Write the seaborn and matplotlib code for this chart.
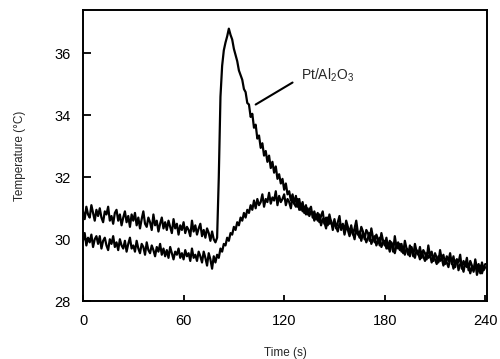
import numpy as np
import pandas as pd
import matplotlib
matplotlib.use("Agg")
import matplotlib.pyplot as plt
import seaborn as sns

# time axis: sampled every 1 s from 0 to 240 s
time_s = list(range(0, 241))

# Pt/Al2O3 sample (upper trace at start, sharp peak near 87 s)
temp_pt = [
    30.9, 30.65, 31.05, 30.8, 30.7, 31.1, 30.85, 30.6, 30.95, 30.75,
    31.0, 30.7, 30.55, 30.9, 30.8, 31.05, 30.6, 30.75, 30.5, 30.85,
    30.95, 30.6, 30.8, 30.45, 30.7, 30.9, 30.55, 30.75, 30.4, 30.8,
    30.6, 30.85, 30.45, 30.7, 30.35, 30.65, 30.9, 30.5, 30.4, 30.7,
    30.55, 30.3, 30.8, 30.45, 30.6, 30.25, 30.5, 30.7, 30.35, 30.55,
    30.3, 30.6, 30.4, 30.2, 30.65, 30.35, 30.5, 30.15, 30.45, 30.3,
    30.55, 30.2, 30.4, 30.3, 30.1, 30.6, 30.25, 30.45, 30.15, 30.35,
    30.5, 30.1, 30.3, 30.05, 30.35, 30.2, 29.95, 30.25, 30.0, 29.9,
    30.05, 32.0, 34.6, 35.6, 36.1, 36.35, 36.55, 36.8, 36.6, 36.45,
    36.15, 35.95, 35.75, 35.45, 35.3, 35.15, 34.85, 34.75, 34.4, 34.35,
    33.95, 34.05, 33.6, 33.7, 33.25, 33.35, 32.95, 33.1, 32.7, 32.85,
    32.5, 32.7, 32.3, 32.5, 32.15, 32.35, 31.95, 32.1, 31.8, 31.95,
    31.6, 31.8, 31.45, 31.55, 31.25, 31.45, 31.15, 31.4, 31.05, 31.3,
    30.95, 31.2, 30.85, 31.1, 30.8, 30.95, 31.05, 30.7, 30.9, 30.65,
    30.85, 30.55, 30.75, 30.9, 30.5, 30.7, 30.45, 30.8, 30.55, 30.4,
    30.65, 30.35, 30.55, 30.75, 30.3, 30.5, 30.25, 30.6, 30.4, 30.2,
    30.45, 30.15, 30.35, 30.6, 30.2, 30.05, 30.4, 30.25, 30.0, 30.3,
    30.2, 29.95, 30.35, 30.05, 29.9, 30.15, 30.0, 29.8, 30.2, 29.95,
    29.8, 30.05, 29.7, 29.95, 29.85, 29.6, 30.1, 29.75, 29.9, 29.65,
    29.85, 29.55, 29.95, 29.7, 29.5, 29.8, 29.65, 29.45, 29.85, 29.6,
    29.5, 29.75, 29.4, 29.65, 29.55, 29.35, 29.8, 29.45, 29.6, 29.3,
    29.55, 29.4, 29.25, 29.65, 29.35, 29.5, 29.2, 29.45, 29.3, 29.55,
    29.2, 29.45, 29.1, 29.35, 29.25, 29.5, 29.05, 29.3, 29.15, 29.4,
    29.0, 29.3, 29.15, 28.95, 29.35, 29.05, 29.2, 28.9, 29.25, 29.0,
    29.1,
]

# second sample (lower trace at start, slow rise after 80 s)
temp_ref = [
    29.95, 30.2, 29.8, 30.05, 29.9, 30.15, 29.75, 30.0, 30.1, 29.85,
    30.1, 29.7, 29.95, 30.05, 29.8, 29.65, 30.0, 29.85, 30.1, 29.75,
    29.9, 29.65, 30.0, 29.8, 29.7, 29.95, 29.6, 29.85, 30.05, 29.7,
    29.8, 29.6, 29.95, 29.7, 29.55, 29.85, 29.75, 29.5, 29.9, 29.65,
    29.55, 29.8, 29.65, 29.45, 29.75, 29.6, 29.85, 29.5, 29.7, 29.45,
    29.65, 29.4, 29.75, 29.55, 29.35, 29.6, 29.5, 29.7, 29.4, 29.55,
    29.35, 29.65, 29.45, 29.55, 29.3, 29.7, 29.4, 29.5, 29.3, 29.6,
    29.45, 29.25, 29.6, 29.4, 29.15, 29.55, 29.35, 29.05, 29.45, 29.25,
    29.5, 29.4, 29.7, 29.6, 29.85, 29.8, 30.05, 29.95, 30.2, 30.15,
    30.4, 30.3, 30.55, 30.45, 30.7, 30.6, 30.85, 30.7, 30.95, 30.85,
    31.1, 30.95, 31.25, 31.0, 31.3, 31.1, 31.2, 31.45, 31.05, 31.3,
    31.2, 31.5, 31.15, 31.35, 31.25, 31.55, 31.1, 31.4, 31.2, 31.3,
    31.45, 31.1, 31.3, 31.2, 31.0, 31.35, 31.15, 31.05, 31.3, 30.95,
    31.15, 30.9, 31.05, 30.8, 31.0, 30.75, 30.9, 30.85, 30.6, 30.8,
    30.6, 30.8, 30.45, 30.65, 30.55, 30.35, 30.7, 30.5, 30.6, 30.3,
    30.55, 30.4, 30.25, 30.5, 30.35, 30.45, 30.15, 30.4, 30.3, 30.1,
    30.3, 30.2, 30.0, 30.35, 30.15, 30.25, 29.95, 30.2, 30.1, 29.9,
    30.05, 30.2, 29.85, 30.0, 30.1, 29.8, 29.95, 30.05, 29.75, 29.9,
    29.95, 29.7, 29.85, 29.6, 29.9, 29.75, 29.55, 29.8, 29.7, 29.85,
    29.6, 29.75, 29.5, 29.7, 29.65, 29.45, 29.75, 29.55, 29.4, 29.65,
    29.55, 29.35, 29.6, 29.45, 29.3, 29.55, 29.4, 29.5, 29.25, 29.45,
    29.35, 29.2, 29.45, 29.3, 29.4, 29.15, 29.35, 29.25, 29.1, 29.4,
    29.3, 29.05, 29.25, 29.35, 29.0, 29.2, 29.15, 28.95, 29.25, 29.1,
    29.2, 28.9, 29.1, 29.0, 29.25, 28.85, 29.05, 29.15, 28.9, 29.1,
    29.2,
]

x_ticks = [0, 60, 120, 180, 240]
y_ticks = [28, 30, 32, 34, 36]
label_text = "Pt/Al$_2$O$_3$"

assert len(time_s) == len(temp_pt) == len(temp_ref), (len(time_s), len(temp_pt), len(temp_ref))

df = pd.DataFrame({
    "time": time_s * 2,
    "temp": temp_pt + temp_ref,
    "sample": ["Pt"] * len(time_s) + ["ref"] * len(time_s),
})

sns.set_style("ticks")
plt.rcParams["font.family"] = ["Liberation Sans", "DejaVu Sans"]
plt.rcParams["mathtext.default"] = "regular"

fig = plt.figure(figsize=(5.0, 3.59), dpi=100)
ax = fig.add_axes([0.166, 0.161, 0.808, 0.811])

sns.lineplot(data=df, x="time", y="temp", hue="sample", units="sample",
             estimator=None, palette=["black", "black"], linewidth=1.6,
             legend=False, ax=ax)

ax.set_xlim(0, 241)
ax.set_ylim(28, 37.4)
ax.set_xticks(x_ticks)
ax.set_yticks(y_ticks)
ax.tick_params(direction="in", length=6, width=1.3, labelsize=10.5, pad=9,
               colors="black")
ax.tick_params(axis="x", length=4)
for sp in ax.spines.values():
    sp.set_visible(True)
    sp.set_linewidth(1.4)
    sp.set_color("black")

ax.set_xlabel("Time (s)", fontsize=8.5, labelpad=14)
ax.set_ylabel("Temperature (°C)", fontsize=8.5, labelpad=20)

ax.annotate("", xy=(103, 34.35), xytext=(125, 35.06),
            arrowprops=dict(arrowstyle="-", lw=1.5, color="black",
                            shrinkA=0, shrinkB=0))
ax.text(130, 35.3, label_text, fontsize=10, ha="left", va="center")

fig.savefig("out.png", dpi=100)
